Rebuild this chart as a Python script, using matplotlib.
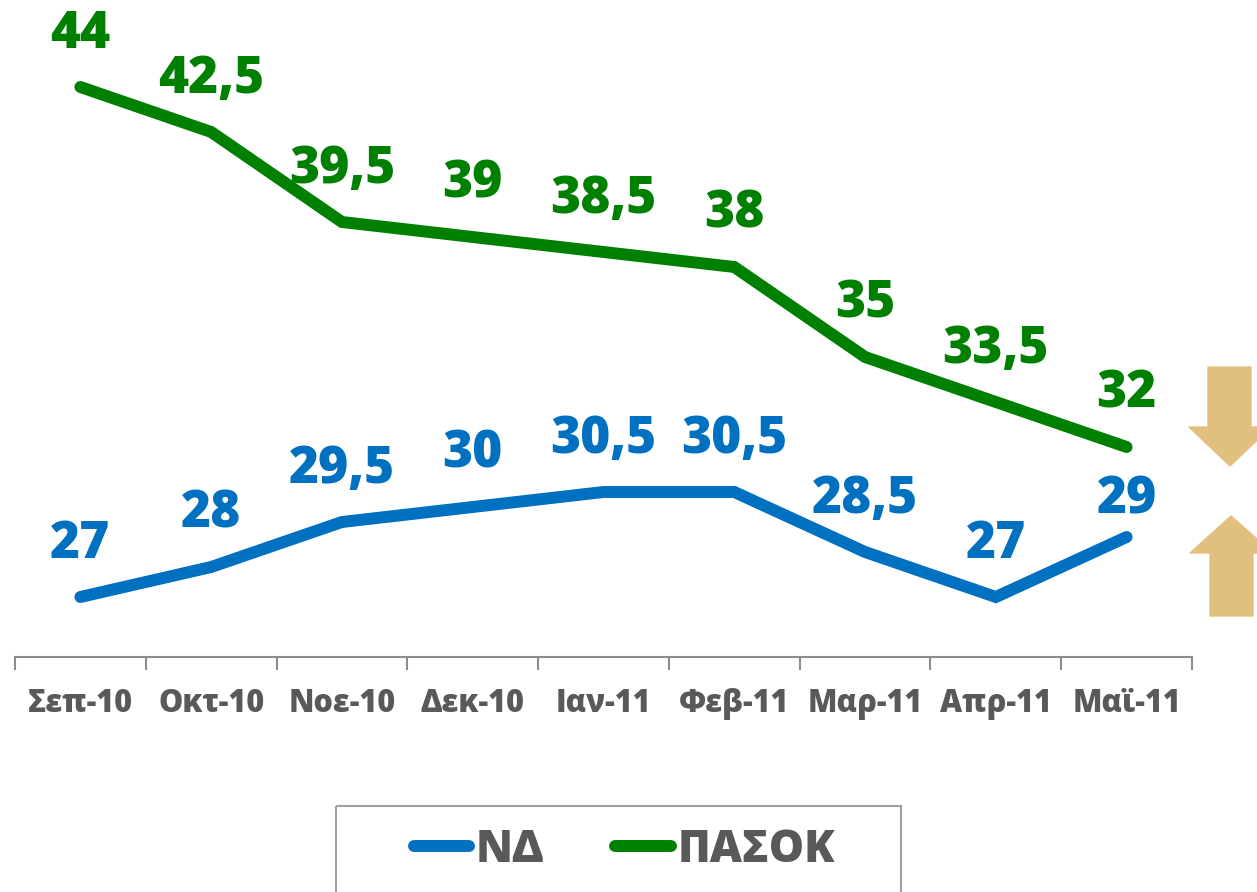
import matplotlib.pyplot as plt
from matplotlib.patches import Polygon, Rectangle

plt.rcParams['font.family'] = ['Open Sans', 'DejaVu Sans']
plt.rcParams['font.weight'] = 'bold'

# dados
meses = ['Σεπ-10', 'Οκτ-10', 'Νοε-10', 'Δεκ-10', 'Ιαν-11', 'Φεβ-11', 'Μαρ-11', 'Απρ-11', 'Μαϊ-11']
nd = [27, 28, 29.5, 30, 30.5, 30.5, 28.5, 27, 29]
pasok = [44, 42.5, 39.5, 39, 38.5, 38, 35, 33.5, 32]

blue = '#0070C0'
green = '#008000'
grey = '#595959'

W, H = 1257, 892
fig = plt.figure(figsize=(W / 100, H / 100), dpi=100)
ax = fig.add_axes([15 / W, 1 - 657 / H, 1177 / W, 630 / H])

x = range(len(meses))
ax.plot(x, nd, color=blue, lw=8.6, solid_capstyle='round', solid_joinstyle='miter', label='ΝΔ')
ax.plot(x, pasok, color=green, lw=8.6, solid_capstyle='round', solid_joinstyle='miter', label='ΠΑΣΟΚ')

def fmt(v):
    return str(v).replace('.', ',') if v % 1 else str(int(v))

for i, v in enumerate(pasok):
    ax.annotate(fmt(v), (i, v), xytext=(0, 38), textcoords='offset points',
                ha='center', va='center', fontsize=37, color=green, fontweight=800)
for i, v in enumerate(nd):
    dy = 27 if i == len(nd) - 1 else 38  # último rótulo mais perto da linha
    ax.annotate(fmt(v), (i, v), xytext=(0, dy), textcoords='offset points',
                ha='center', va='center', fontsize=37, color=blue, fontweight=800)

ax.set_xlim(-0.5, len(meses) - 0.5)
ax.set_ylim(25, 46)
for s in ['top', 'right', 'left']:
    ax.spines[s].set_visible(False)
ax.spines['bottom'].set_color('#8C8C8C')
ax.spines['bottom'].set_linewidth(1.5)
ax.set_yticks([])
ax.set_xticks(x)
ax.set_xticklabels(meses, fontsize=22, color=grey, fontweight=800)
ax.tick_params(axis='x', length=0, pad=22)
# marcas entre categorias
ax.set_xticks([i - 0.5 for i in range(len(meses) + 1)], minor=True)
ax.tick_params(axis='x', which='minor', length=9, width=1.5, color='#8C8C8C')

leg = fig.legend(loc='center left', bbox_to_anchor=(414 / W, 1 - 850 / H), ncol=2,
                 prop={'size': 32, 'weight': 800}, frameon=False,
                 handlelength=1.24, handletextpad=0.15, columnspacing=1.6,
                 borderpad=0, borderaxespad=0)
for t in leg.get_texts():
    t.set_color(grey)
for h in leg.get_lines():
    h.set_solid_capstyle('round')

# moldura da legenda e setas
deco = fig.add_axes([0, 0, 1, 1])
deco.set_xlim(0, W)
deco.set_ylim(H, 0)
deco.axis('off')
deco.add_patch(Rectangle((336, 806), 565, 100, fill=False, edgecolor='#A0A0A0', lw=1.5))
tan = '#E1C07E'
deco.add_patch(Polygon([(1208, 367), (1251, 367), (1251, 427), (1271, 427), (1230, 466),
                        (1189, 427), (1208, 427)], closed=True, color=tan))
deco.add_patch(Polygon([(1210, 616), (1253, 616), (1253, 553), (1273, 553), (1231, 516),
                        (1190, 553), (1210, 553)], closed=True, color=tan))

plt.savefig('out.png', dpi=100)
